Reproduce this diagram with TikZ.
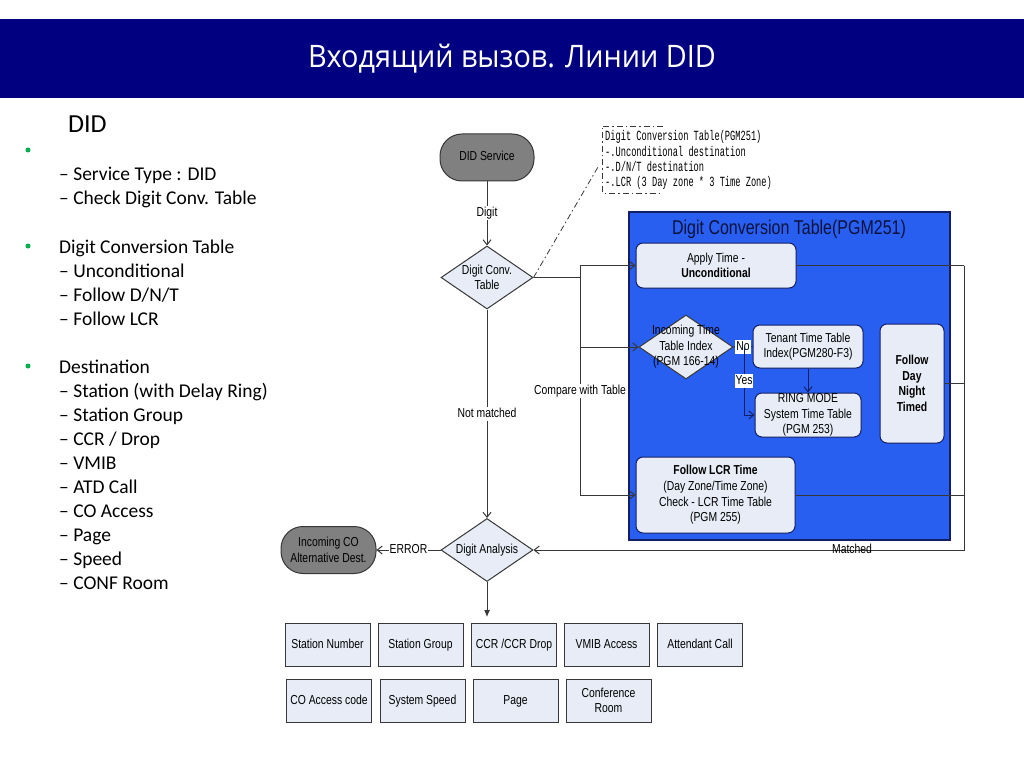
\documentclass[tikz,border=0pt]{standalone}
\usepackage{fontspec}
\usepackage{tikz}
\usetikzlibrary{shapes.geometric, arrows.meta}

\setmainfont{Carlito}
\newfontfamily\titlefont{Open Sans}[FakeStretch=0.93]
\newfontfamily\chartfont{Liberation Sans}[FakeStretch=0.8]
\newfontfamily\notefont{Liberation Mono}[FakeStretch=0.62]

\definecolor{barnavy}{RGB}{0,0,128}
\definecolor{dotgreen}{RGB}{0,176,80}
\definecolor{boxfill}{RGB}{231,236,246}
\definecolor{termgray}{RGB}{128,128,128}
\definecolor{linegray}{RGB}{55,55,55}
\definecolor{tableblue}{RGB}{40,95,240}
\definecolor{tableedge}{RGB}{20,30,100}

\tikzset{
	chart/.style={font={\chartfont\fontsize{13}{15.6}\selectfont}, align=center, inner sep=0pt},
	onerow/.style={text height=9.5pt, text depth=2.5pt},
	terminal/.style={chart, draw=linegray, fill=termgray, line width=1pt, rounded corners=22pt, minimum width=94pt, minimum height=47pt},
	decision/.style={diamond, draw=linegray, fill=boxfill, line width=1pt, inner sep=0pt, minimum width=92pt, minimum height=63pt},
	tbox/.style={chart, draw=tableedge, fill=boxfill, line width=1pt, rounded corners=7pt},
	destbox/.style={chart, draw=linegray, fill=boxfill, line width=1pt, minimum width=85pt, minimum height=43pt},
	lbl/.style={chart, onerow, fill=white, inner sep=1pt},
	link/.style={draw=linegray, line width=1pt},
	slidetext/.style={anchor=base west, inner sep=0pt, font={\fontsize{19.5}{24}\selectfont}},
	notetext/.style={anchor=base west, inner sep=0pt, font={\notefont\fontsize{14}{15}\selectfont}},
	notelink/.style={draw=linegray, line width=0.8pt, dash pattern=on 6pt off 3pt on 1.5pt off 3pt},
	bullet/.style={circle, fill=dotgreen, inner sep=0pt, minimum size=5pt}
}

\begin{document}
\begin{tikzpicture}[x=1pt, y=-1pt, >={Straight Barb[length=5pt,width=8pt]}]
	\def \colx {487}
	\def \retx {964}

	\useasboundingbox (0,0) rectangle (1024,767);
	\fill[white] (0,0) rectangle (1024,767);
	\fill[barnavy] (0,19) rectangle (1024,98);
	\node[font={\titlefont\fontsize{31}{36}\selectfont}, text=white] (title) at (512,59) {Входящий вызов. Линии DID};

	% left column
	\node[slidetext, font={\fontsize{26}{30}\selectfont}] (didhead) at (68,133) {DID};
	\node[bullet] (dotA) at (28,150) {};
	\node[bullet] (dotB) at (28,246) {};
	\node[bullet] (dotC) at (28,366) {};
	\foreach \t [count=\i from 0] in {– Service Type : DID, – Check Digit Conv. Table}
		\node[slidetext] (svcline\i) at (59,{181+24*\i}) {\t};
	\foreach \t [count=\i from 0] in {Digit Conversion Table, – Unconditional, – Follow D/N/T, – Follow LCR}
		\node[slidetext] (convline\i) at (59,{253+24*\i}) {\t};
	\foreach \t [count=\i from 0] in {Destination, – Station (with Delay Ring), – Station Group, – CCR / Drop, – VMIB, – ATD Call, – CO Access, – Page, – Speed, – CONF Room}
		\node[slidetext] (destline\i) at (59,{373+24*\i}) {\t};

	% flow
	\node[terminal, onerow] (didsvc) at (\colx,157.5) {DID Service};
	\node[decision] (convtab) at (\colx,277.5) {};
	\node[chart] (convtabtxt) at (convtab) {Digit Conv.\\Table};
	\node[decision] (digitan) at (\colx,550) {};
	\node[chart, onerow] (digitantxt) at (digitan) {Digit Analysis};
	\node[terminal, minimum width=95pt] (incco) at (328.5,550) {Incoming CO\\Alternative Dest.};

	% note
	\foreach \t [count=\i from 0] in {Digit Conversion Table(PGM251), -.Unconditional destination, -.D/N/T destination, -.LCR (3 Day zone * 3 Time Zone)}
		\node[notetext] (noteline\i) at (605,{141+15.3*\i}) {\t};
	\draw[notelink] (663,126) -- (602,126) -- (602,193) -- (663,193);
	\coordinate (notepin) at (598,167);
	\draw[notelink] (convtab.east) -- (notepin);

	% digit conversion table
	\node[draw=tableedge, fill=tableblue, line width=2pt, minimum width=321pt, minimum height=328pt, inner sep=0pt] (dct) at (789.5,376) {};
	\node[chart, font={\chartfont\fontsize{20}{24}\selectfont}, text=tableedge!60!black] (dcttitle) at (789,229) {Digit Conversion Table(PGM251)};
	\node[tbox, minimum width=160pt, minimum height=45pt] (applytime) at (716,265.5) {Apply Time -\\\textbf{Unconditional}};
	\node[decision, minimum width=94pt, minimum height=64pt] (inctime) at (686,347) {};
	\node[chart] (inctimetxt) at (inctime) {Incoming Time\\Table Index\\(PGM 166-14)};
	\node[tbox, minimum width=110pt, minimum height=43pt] (tenant) at (808,346.5) {Tenant Time Table\\Index(PGM280-F3)};
	\node[tbox, minimum width=106pt, minimum height=44pt] (ringmode) at (808,415) {RING MODE\\System Time Table\\(PGM 253)};
	\node[tbox, minimum width=64pt, minimum height=119pt, font={\chartfont\bfseries\fontsize{13}{15.6}\selectfont}] (followdnt) at (912,383.5) {Follow\\Day\\Night\\Timed};
	\node[tbox, minimum width=159pt, minimum height=76pt] (lcrtime) at (715.5,495) {\textbf{Follow LCR Time}\\(Day Zone/Time Zone)\\Check - LCR Time Table\\(PGM 255)};

	% destinations
	\node[destbox, onerow] (stnnum) at (327.5,645) {Station Number};
	\node[destbox, onerow] (stngrp) at (420.5,645) {Station Group};
	\node[destbox, onerow] (ccrdrop) at (514,645) {CCR /CCR Drop};
	\node[destbox, onerow] (vmib) at (606.5,645) {VMIB Access};
	\node[destbox, onerow] (atdcall) at (700,645) {Attendant Call};
	\node[destbox, onerow] (coacc) at (329,700.5) {CO Access code};
	\node[destbox, onerow] (sysspd) at (422.5,700.5) {System Speed};
	\node[destbox, onerow] (page) at (515.5,700.5) {Page};
	\node[destbox] (confroom) at (608.5,700.5) {Conference\\Room};

	% connectors
	\draw[link, ->] (didsvc) -- node[lbl] (digitlbl) {Digit} (convtab);
	\coordinate (split) at (580,277.5);
	\draw[link] (convtab.east) -- (split);
	\draw[link, ->] (split) |- (applytime.west);
	\draw[link, ->] (split) |- (inctime.west);
	\draw[link, ->] (split) |- node[lbl, pos=0.26] (cmplbl) {Compare with Table} (lcrtime.west);
	\draw[link, ->] (convtab) -- node[lbl] (nmlbl) {Not matched} (digitan);
	\draw[link, ->] (digitan) -- node[lbl] (errlbl) {ERROR} (incco);
	\coordinate (destin) at (\colx,617);
	\draw[link, -{Latex[length=7pt,width=6pt]}] (digitan) -- (destin);

	\coordinate (yesfork) at (744,347);
	\draw[link, draw=tableedge] (inctime.east) -- node[lbl] (nolbl) {No} (tenant.west);
	\draw[link, draw=tableedge, ->] (yesfork) |- node[lbl, pos=0.25] (yeslbl) {Yes} (ringmode.west);
	\draw[link, draw=tableedge, ->] (tenant) -- (ringmode);

	\coordinate (retcorner) at (\retx,550);
	\draw[link] (applytime.east) -- (applytime.east -| retcorner);
	\draw[link] (followdnt.east) -- (followdnt.east -| retcorner);
	\draw[link] (lcrtime.east) -- (lcrtime.east -| retcorner);
	\draw[link, ->] (applytime.east -| retcorner) -- (retcorner) -- node[chart, onerow, pos=0.26] (matchlbl) {Matched} (digitan.east);
\end{tikzpicture}
\end{document}
